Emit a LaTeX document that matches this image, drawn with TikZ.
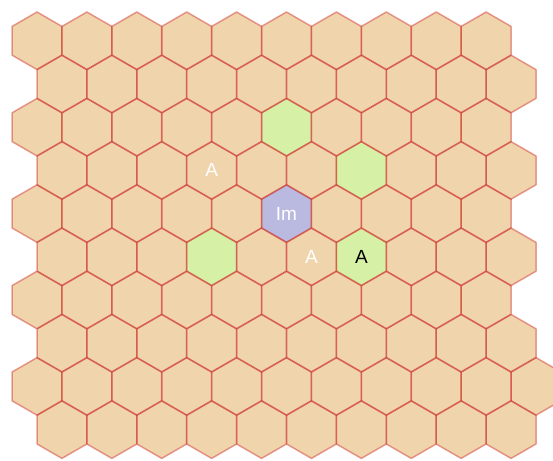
\documentclass[tikz,border=0pt]{standalone}
\usepackage{fontspec}
\setmainfont{Liberation Sans}
\usetikzlibrary{shapes.geometric}
\definecolor{hexsand}{RGB}{240,212,172}
\definecolor{hexedge}{RGB}{205,45,40}
\definecolor{hexgreen}{RGB}{214,241,166}
\definecolor{hexblue}{RGB}{186,186,224}
\tikzset{
  hexcell/.style={regular polygon, regular polygon sides=6, shape border rotate=30,
                  minimum size=57.6pt, inner sep=0pt, outer sep=0pt, fill=hexsand,
                  text=white, font=\fontsize{19}{19}\selectfont},
  goodcell/.style={hexcell, fill=hexgreen, text=black},
  imcell/.style={hexcell, fill=hexblue},
  hexline/.style={draw=hexedge, draw opacity=0.45, line width=1.5pt, line join=round},
}

\begin{document}
\begin{tikzpicture}[x=1pt, y=-1pt]
  \useasboundingbox (0,0) rectangle (553,460);
  \clip (0,0) rectangle (553,460);

  % the board
  \foreach \r in {1,...,10}{
    \pgfmathtruncatemacro\last{\r==9 ? 11 : 10}
    \foreach \c in {1,...,\last}{
      \node[hexcell] (h-\r-\c) at ({37+(\c-1)*49.9+mod(\r+1,2)*24.95}, {40.8+(\r-1)*43.2}) {};
    }
  }

  % marked cells
  \foreach \r/\c/\kind/\txt in {3/6/goodcell/{}, 4/7/goodcell/{}, 6/4/goodcell/{},
                                6/7/goodcell/A, 5/6/imcell/Im, 4/4/hexcell/A, 6/6/hexcell/A}
    \node[\kind] (m-\r-\c) at (h-\r-\c) {\txt};

  % cell borders
  \foreach \r in {1,...,10}{
    \pgfmathtruncatemacro\last{\r==9 ? 11 : 10}
    \foreach \c in {1,...,\last}
      \draw[hexline] (h-\r-\c.corner 1) -- (h-\r-\c.corner 2) -- (h-\r-\c.corner 3)
        -- (h-\r-\c.corner 4) -- (h-\r-\c.corner 5) -- (h-\r-\c.corner 6) -- cycle;
  }
\end{tikzpicture}
\end{document}
